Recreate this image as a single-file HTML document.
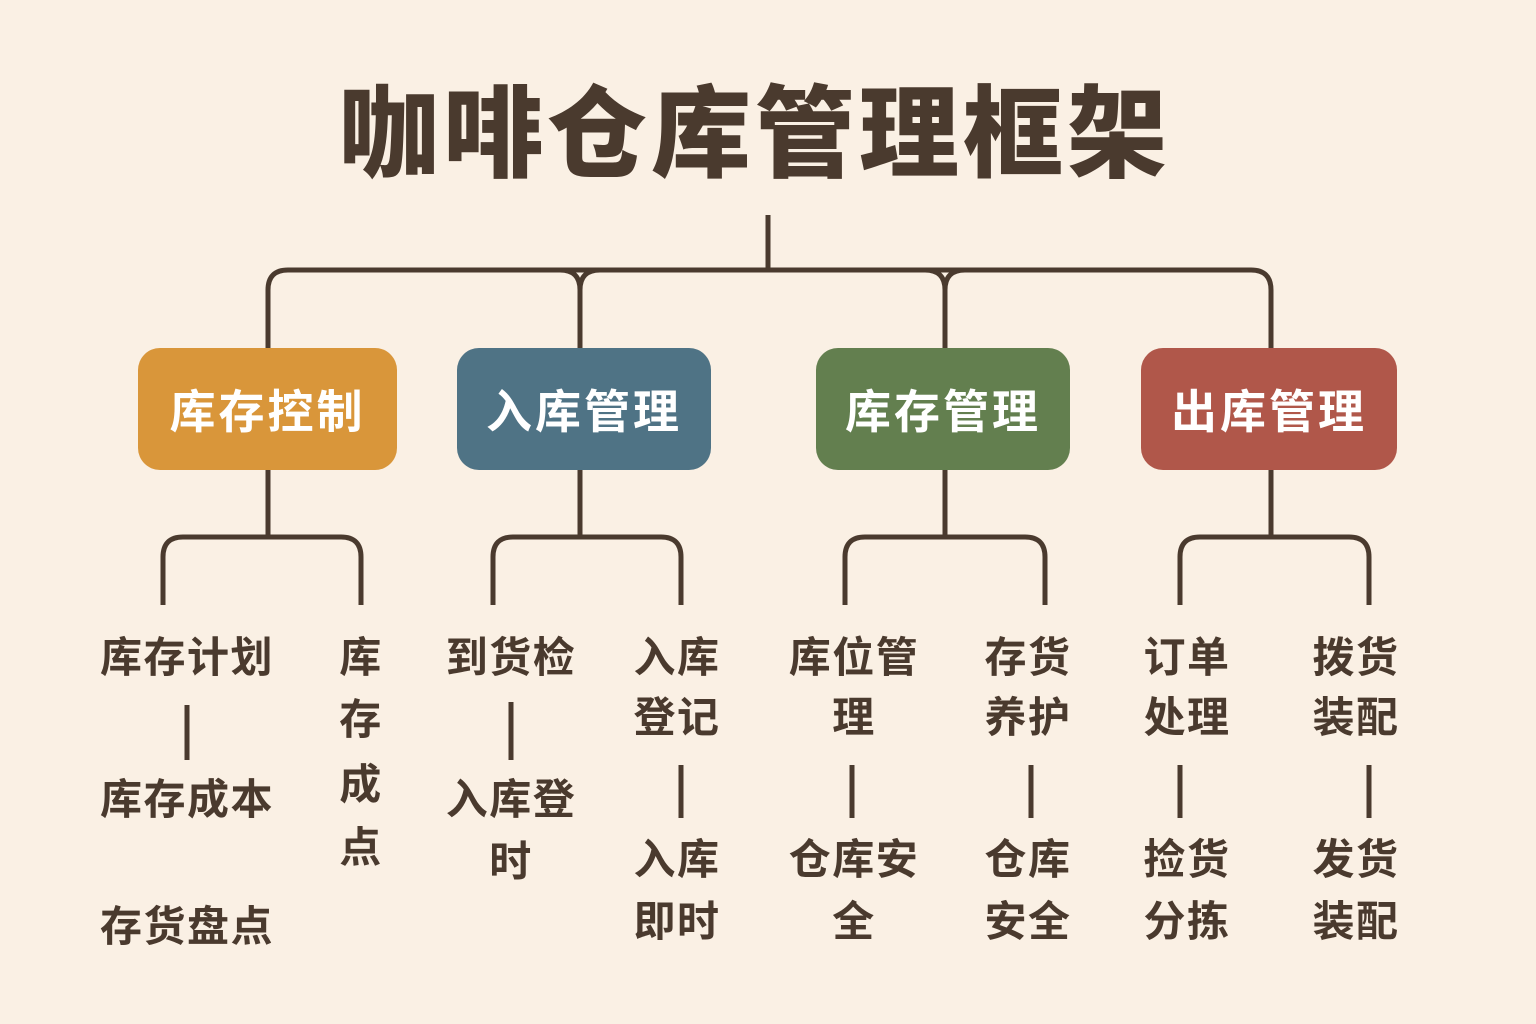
<!DOCTYPE html>
<html><head><meta charset="utf-8">
<style>
html,body{margin:0;padding:0}
body{width:1536px;height:1024px;background:#faf0e4;position:relative;overflow:hidden;font-family:"Liberation Sans","Noto Sans CJK SC",sans-serif;color:#4a3a2e}
.t{position:absolute;font-weight:bold;text-align:center;white-space:nowrap;transform:translate(-50%,-50%);line-height:1}
.title{font-size:100px;letter-spacing:4px;font-weight:900}
.box{position:absolute;border-radius:22px;color:#fff;font-weight:bold;font-size:46px;letter-spacing:3px;display:flex;align-items:center;justify-content:center}
.s{font-size:42px;letter-spacing:1.5px}
</style></head><body>
<svg width="1536" height="1024" style="position:absolute;left:0;top:0" fill="none" stroke="#4a3a2e" stroke-width="5">
<path d="M768 215 V270"/>
<path d="M268 348 V290 Q268 270 288 270 H1251 Q1271 270 1271 290 V348"/>
<path d="M580 348 V290 Q580 270 600 270 M580 290 Q580 270 560 270"/>
<path d="M945 348 V290 Q945 270 965 270 M945 290 Q945 270 925 270"/>
<path d="M268 470 V537"/><path d="M163 605 V557 Q163 537 183 537 H341 Q361 537 361 557 V605"/>
<path d="M580 470 V537"/><path d="M493 605 V557 Q493 537 513 537 H661 Q681 537 681 557 V605"/>
<path d="M945 470 V537"/><path d="M845 605 V557 Q845 537 865 537 H1025 Q1045 537 1045 557 V605"/>
<path d="M1271 470 V537"/><path d="M1180 605 V557 Q1180 537 1200 537 H1349 Q1369 537 1369 557 V605"/>
<path d="M187 705 V760 M511 702 V760 M681 765 V818 M852 765 V818 M1031 765 V818 M1180 765 V818 M1369 765 V818"/>
</svg>
<div class="t title" style="left:755px;top:135px">咖啡仓库管理框架</div>
<div class="box" style="left:138px;top:348px;width:259px;height:122px;background:#d9963a">库存控制</div>
<div class="box" style="left:457px;top:348px;width:254px;height:122px;background:#4f7385">入库管理</div>
<div class="box" style="left:816px;top:348px;width:254px;height:122px;background:#637f4f">库存管理</div>
<div class="box" style="left:1141px;top:348px;width:256px;height:122px;background:#b0574a">出库管理</div>

<div class="t s" style="left:187px;top:658px">库存计划</div>
<div class="t s" style="left:187px;top:800px">库存成本</div>
<div class="t s" style="left:187px;top:927px">存货盘点</div>

<div class="t s" style="left:361px;top:658px">库</div>
<div class="t s" style="left:361px;top:720px">存</div>
<div class="t s" style="left:361px;top:785px">成</div>
<div class="t s" style="left:361px;top:848px">点</div>

<div class="t s" style="left:511px;top:658px">到货检</div>
<div class="t s" style="left:511px;top:800px">入库登</div>
<div class="t s" style="left:511px;top:862px">时</div>

<div class="t s" style="left:677px;top:658px">入库</div>
<div class="t s" style="left:677px;top:718px">登记</div>
<div class="t s" style="left:677px;top:860px">入库</div>
<div class="t s" style="left:677px;top:922px">即时</div>

<div class="t s" style="left:854px;top:658px">库位管</div>
<div class="t s" style="left:854px;top:718px">理</div>
<div class="t s" style="left:854px;top:860px">仓库安</div>
<div class="t s" style="left:854px;top:922px">全</div>

<div class="t s" style="left:1028px;top:658px">存货</div>
<div class="t s" style="left:1028px;top:718px">养护</div>
<div class="t s" style="left:1028px;top:860px">仓库</div>
<div class="t s" style="left:1028px;top:922px">安全</div>

<div class="t s" style="left:1187px;top:658px">订单</div>
<div class="t s" style="left:1187px;top:718px">处理</div>
<div class="t s" style="left:1187px;top:860px">捡货</div>
<div class="t s" style="left:1187px;top:922px">分拣</div>

<div class="t s" style="left:1356px;top:658px">拨货</div>
<div class="t s" style="left:1356px;top:718px">装配</div>
<div class="t s" style="left:1356px;top:860px">发货</div>
<div class="t s" style="left:1356px;top:922px">装配</div>
</body></html>
